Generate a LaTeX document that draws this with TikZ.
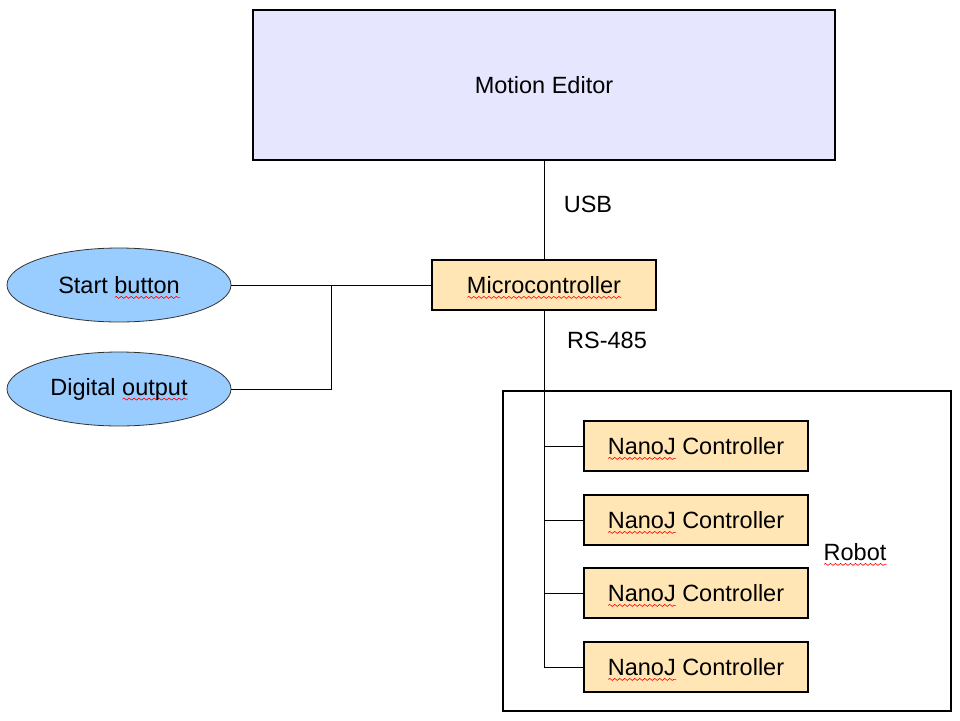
\documentclass[tikz,border=0pt]{standalone}
\usepackage{fontspec}
\setmainfont{Liberation Sans}
\usetikzlibrary{shapes.geometric}
\usetikzlibrary{decorations.pathmorphing}

\definecolor{editorfill}{HTML}{E6E6FF}
\definecolor{boardfill}{HTML}{FFE6B4}
\definecolor{inputfill}{HTML}{99CCFF}

% red wavy spell-check underline
\newcommand{\spellerr}[1]{\setbox0=\hbox{#1}\rlap{\smash{\tikz[baseline=0pt]{\draw[red, line width=0.6pt, decorate, decoration={snake, amplitude=1pt, segment length=5pt}] (0pt,-4pt) -- (\wd0,-4pt);}}}\copy0\relax}

\tikzset{
  every node/.style={font=\fontsize{23.5}{28}\selectfont, inner sep=0pt},
  editor/.style={draw, line width=1.6pt, fill=editorfill, minimum width=582pt, minimum height=150pt},
  board/.style={draw, line width=1.6pt, fill=boardfill, minimum width=224pt, minimum height=50pt},
  inport/.style={ellipse, draw=black!80, line width=0.8pt, fill=inputfill, minimum width=224pt, minimum height=74pt},
  robotbox/.style={draw, line width=1.6pt, minimum width=448pt, minimum height=320pt},
  wire/.style={line width=0.8pt}
}

\begin{document}
\begin{tikzpicture}[x=1pt, y=-1pt]
  \useasboundingbox (0,0) rectangle (960,720);

  \node[editor] (editor) at (544,85) {Motion Editor};
  \node[board] (mcu) at (544,285) {\spellerr{Microcontroller}};
  \node[inport] (start) at (119,285) {Start \spellerr{button}};
  \node[inport] (dout) at (119,389) {Digital \spellerr{output}};

  \node[robotbox] (robot) at (727,551) {};
  \node (robotlbl) at (855,552) {\spellerr{Robot}};
  \foreach \y [count=\i] in {446,520,593,667}
    \node[board] (nj\i) at (696,\y) {\spellerr{NanoJ} Controller};

  \node (usb) at (588,204) {USB};
  \node (rs) at (607,340) {RS-485};

  \coordinate (join) at (331,285);
  \draw[wire] (editor) -- (mcu);
  \draw[wire] (start) -- (mcu);
  \draw[wire] (dout.east) -| (join);
  \draw[wire] (mcu) -- (mcu |- nj4);
  \foreach \i in {1,...,4}
    \draw[wire] (mcu |- nj\i) -- (nj\i.west);
\end{tikzpicture}
\end{document}
